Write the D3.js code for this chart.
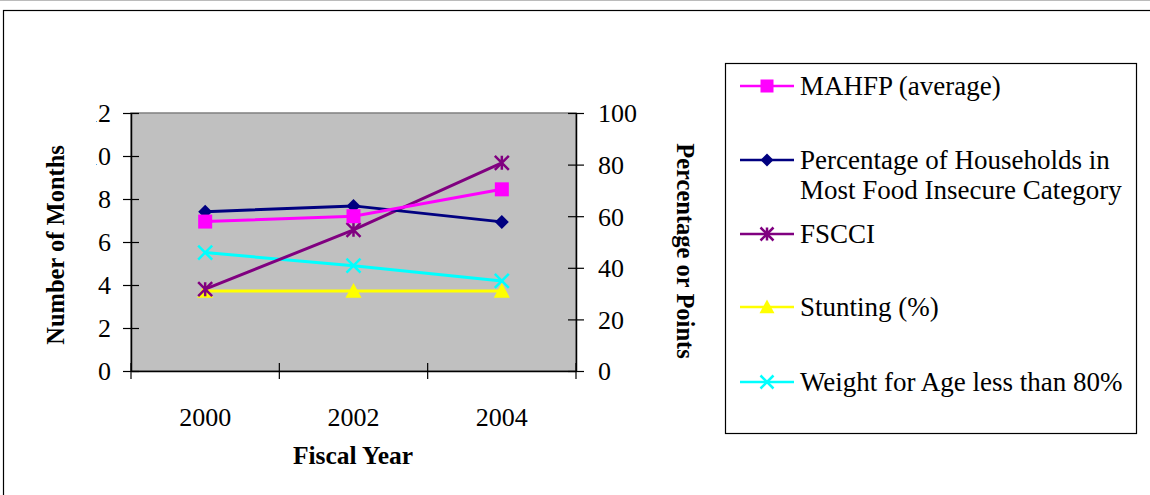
<!DOCTYPE html>
<html>
<head>
<meta charset="utf-8">
<script src="https://cdn.jsdelivr.net/npm/d3@7"></script>
<style>
  html, body { margin: 0; padding: 0; background: #fff; }
  svg { display: block; font-family: "Liberation Serif", "Times New Roman", serif; }
</style>
</head>
<body>
<svg id="chart" width="1150" height="495"></svg>
<script>
// Fiscal years on the category axis
const years = ["2000", "2002", "2004"];

// Left axis (months)
const mahfp = [6.95, 7.2, 8.45];

// Right axis (percentage or points)
const householdsInsecure = [61.7, 64, 57.8];
const fscci = [31.7, 54.7, 80.7];
const stunting = [31, 31, 31];
const weightForAge = [45.9, 40.8, 34.9];

const leftTicks = [0, 2, 4, 6, 8, 10, 12];
const rightTicks = [0, 20, 40, 60, 80, 100];

const seriesNames = [
  ["MAHFP (average)"],
  ["Percentage of Households in", "Most Food Insecure Category"],
  ["FSCCI"],
  ["Stunting (%)"],
  ["Weight for Age less than 80%"]
];

const svg = d3.select("#chart");

// outer frame
svg.append("line").attr("x1", 0).attr("x2", 1150).attr("y1", 0.5).attr("y2", 0.5)
  .attr("stroke", "#bbb").attr("stroke-width", 1);
svg.append("rect").attr("x", 3.5).attr("y", 10.5).attr("width", 1160).attr("height", 500)
  .attr("fill", "none").attr("stroke", "#000").attr("stroke-width", 1.2);

const plot = { left: 131, right: 576, top: 113, bottom: 371 };

const x = d3.scaleBand().domain(years).range([plot.left, plot.right]);
const yL = d3.scaleLinear().domain([0, 12]).range([plot.bottom, plot.top]);
const yR = d3.scaleLinear().domain([0, 100]).range([plot.bottom, plot.top]);

// plot background
svg.append("rect")
  .attr("x", plot.left).attr("y", plot.top)
  .attr("width", plot.right - plot.left).attr("height", plot.bottom - plot.top)
  .attr("fill", "#c0c0c0").attr("stroke", "#808080").attr("stroke-width", 1.5);

// clip region for the left tick labels
svg.append("defs").append("clipPath").attr("id", "leftLabelClip")
  .append("rect").attr("x", 96).attr("y", 80).attr("width", 60).attr("height", 320);

const tickFont = 26;

// left axis
const gL = svg.append("g").attr("transform", `translate(${plot.left},0)`)
  .call(d3.axisLeft(yL).tickValues(leftTicks).tickSize(8).tickSizeOuter(0));
gL.select(".domain").attr("stroke", "#000").attr("stroke-width", 1.5);
gL.selectAll(".tick line").attr("stroke", "#000").attr("stroke-width", 1.2).attr("x2", -8).attr("x1", 8);
gL.selectAll(".tick text").remove();
const labelsL = svg.append("g").attr("clip-path", "url(#leftLabelClip)");
labelsL.selectAll("text").data(leftTicks).join("text")
  .attr("x", 111).attr("y", d => yL(d)).attr("dy", "0.34em")
  .attr("text-anchor", "end").attr("font-size", tickFont).attr("fill", "#000")
  .text(d => d);

// right axis
const gR = svg.append("g").attr("transform", `translate(${plot.right},0)`)
  .call(d3.axisRight(yR).tickValues(rightTicks).tickSize(8).tickSizeOuter(0).tickPadding(14));
gR.select(".domain").attr("stroke", "#000").attr("stroke-width", 1.5);
gR.selectAll(".tick line").attr("stroke", "#000").attr("stroke-width", 1.2).attr("x1", -8).attr("x2", 8);
gR.selectAll(".tick text").attr("font-size", tickFont).attr("font-family", "Liberation Serif").attr("fill", "#000")
  .attr("dy", "0.34em");

// bottom axis with ticks on category boundaries
const gB = svg.append("g").attr("transform", `translate(0,${plot.bottom})`)
  .call(d3.axisBottom(x).tickSize(0).tickPadding(37));
gB.select(".domain").attr("stroke", "#000").attr("stroke-width", 1.5);
gB.selectAll(".tick text").attr("font-size", tickFont).attr("font-family", "Liberation Serif").attr("fill", "#000");
const bounds = years.map(y => x(y)).concat([plot.right]);
gB.selectAll(".boundary").data(bounds).join("line")
  .attr("x1", d => d).attr("x2", d => d).attr("y1", -8).attr("y2", 8)
  .attr("stroke", "#000").attr("stroke-width", 1.2);

// axis titles
svg.append("text").attr("x", 353).attr("y", 464).attr("text-anchor", "middle")
  .attr("font-size", 25.5).attr("font-weight", "bold").text("Fiscal Year");
svg.append("text").attr("transform", "translate(64,245) rotate(-90)").attr("text-anchor", "middle")
  .attr("font-size", 24.5).attr("font-weight", "bold").text("Number of Months");
svg.append("text").attr("transform", "translate(677,251) rotate(90)").attr("text-anchor", "middle")
  .attr("font-size", 24.5).attr("font-weight", "bold").text("Percentage or Points");

// marker shapes
function drawMarker(g, type, color, s) {
  const h = s / 2;
  if (type === "square") {
    g.append("rect").attr("x", -h).attr("y", -h).attr("width", s).attr("height", s).attr("fill", color);
  } else if (type === "diamond") {
    g.append("path").attr("d", `M0,${-h}L${h},0L0,${h}L${-h},0Z`).attr("fill", color);
  } else if (type === "triangle") {
    const t = h * 1.15;
    g.append("path").attr("d", `M0,${-t}L${t},${t * 0.85}L${-t},${t * 0.85}Z`).attr("fill", color);
  } else if (type === "x") {
    g.append("path").attr("d", `M${-h},${-h}L${h},${h}M${-h},${h}L${h},${-h}`)
      .attr("stroke", color).attr("stroke-width", 2.5).attr("fill", "none");
  } else if (type === "star") {
    g.append("path").attr("d", `M${-h},${-h}L${h},${h}M${-h},${h}L${h},${-h}M0,${-h}L0,${h}`)
      .attr("stroke", color).attr("stroke-width", 2.5).attr("fill", "none");
  }
}

const series = [
  { values: mahfp, scale: yL, color: "#ff00ff", marker: "square" },
  { values: householdsInsecure, scale: yR, color: "#000080", marker: "diamond" },
  { values: fscci, scale: yR, color: "#800080", marker: "star" },
  { values: stunting, scale: yR, color: "#ffff00", marker: "triangle" },
  { values: weightForAge, scale: yR, color: "#00ffff", marker: "x" }
];

const cx = d => x(d) + x.bandwidth() / 2;

// draw in reverse so the first series sits on top
[...series].reverse().forEach(s => {
  const pts = years.map((yr, i) => [cx(yr), s.scale(s.values[i])]);
  svg.append("path").attr("d", d3.line()(pts))
    .attr("fill", "none").attr("stroke", s.color).attr("stroke-width", 3);
  pts.forEach(p => {
    const g = svg.append("g").attr("transform", `translate(${p[0]},${p[1]})`);
    drawMarker(g, s.marker, s.color, 14);
  });
});

// legend
svg.append("rect").attr("x", 725.5).attr("y", 63.5).attr("width", 411).attr("height", 370)
  .attr("fill", "#fff").attr("stroke", "#000").attr("stroke-width", 1.2);
const legendY = [86, 160, 234, 307, 382];
series.forEach((s, i) => {
  const g = svg.append("g").attr("transform", `translate(0,${legendY[i]})`);
  g.append("line").attr("x1", 740).attr("x2", 794).attr("y1", 0).attr("y2", 0)
    .attr("stroke", s.color).attr("stroke-width", 2.5);
  const m = g.append("g").attr("transform", "translate(767,0)");
  drawMarker(m, s.marker, s.color, 13);
  seriesNames[i].forEach((t, j) => {
    g.append("text").attr("x", 800).attr("y", j * 30).attr("dy", "0.34em")
      .attr("font-size", 27).attr("fill", "#000").text(t);
  });
});
</script>
</body>
</html>
